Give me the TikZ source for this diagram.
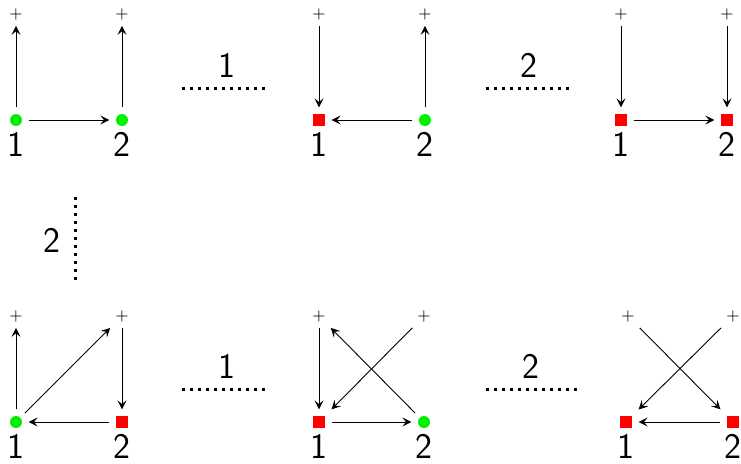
\documentclass[tikz,border=0pt]{standalone}
\usetikzlibrary{arrows.meta}
\definecolor{vgreen}{RGB}{0,240,0}
\definecolor{vred}{RGB}{255,0,0}
\begin{document}
\begin{tikzpicture}[x=0.5pt,y=-0.5pt,
  posnode/.style={circle, fill=vgreen, minimum size=6pt, inner sep=0pt, outer sep=3.3pt},
  negnode/.style={rectangle, fill=vred, minimum size=6pt, inner sep=0pt, outer sep=3.3pt},
  plusnode/.style={inner sep=0.6pt, outer sep=2.5pt, font=\fontsize{8.5}{10}\selectfont},
  numnode/.style={font=\sffamily\fontsize{18}{20}\selectfont, inner sep=0pt},
  sepline/.style={line width=1.5pt, dash pattern=on 1.5pt off 2.5pt},
  arr/.style={-{Stealth[length=4.5pt,width=4.5pt,inset=1.8pt]}, line width=0.45pt}
]
\useasboundingbox (0,0) rectangle (741,463);

% ---- panel A (top left)
\node[posnode] (a1) at (16,120) {};
\node[posnode] (a2) at (122,120) {};
\node[plusnode] (ap1) at (16,14) {$+$};
\node[plusnode] (ap2) at (122,14) {$+$};
\node[numnode] (al1) at (16,144) {1};
\node[numnode] (al2) at (122,144) {2};
\draw[arr] (a1) -- (ap1);
\draw[arr] (a2) -- (ap2);
\draw[arr] (a1) -- (a2);

% ---- panel B (top middle)
\node[negnode] (b1) at (319,120) {};
\node[posnode] (b2) at (425,120) {};
\node[plusnode] (bp1) at (319,14) {$+$};
\node[plusnode] (bp2) at (425,14) {$+$};
\node[numnode] (bl1) at (319,144) {1};
\node[numnode] (bl2) at (425,144) {2};
\draw[arr] (bp1) -- (b1);
\draw[arr] (b2) -- (bp2);
\draw[arr] (b2) -- (b1);

% ---- panel C (top right)
\node[negnode] (c1) at (621,120) {};
\node[negnode] (c2) at (727,120) {};
\node[plusnode] (cp1) at (621,14) {$+$};
\node[plusnode] (cp2) at (727,14) {$+$};
\node[numnode] (cl1) at (621,144) {1};
\node[numnode] (cl2) at (727,144) {2};
\draw[arr] (cp1) -- (c1);
\draw[arr] (cp2) -- (c2);
\draw[arr] (c1) -- (c2);

% ---- panel D (bottom left)
\node[posnode] (d1) at (16,422) {};
\node[negnode] (d2) at (122,422) {};
\node[plusnode] (dp1) at (16,316) {$+$};
\node[plusnode] (dp2) at (122,316) {$+$};
\node[numnode] (dl1) at (16,446) {1};
\node[numnode] (dl2) at (122,446) {2};
\draw[arr] (d1) -- (dp1);
\draw[arr] (d1) -- (dp2);
\draw[arr] (dp2) -- (d2);
\draw[arr] (d2) -- (d1);

% ---- panel E (bottom middle)
\node[negnode] (e1) at (319,422) {};
\node[posnode] (e2) at (424,422) {};
\node[plusnode] (ep1) at (319,316) {$+$};
\node[plusnode] (ep2) at (424,316) {$+$};
\node[numnode] (el1) at (319,446) {1};
\node[numnode] (el2) at (424,446) {2};
\draw[arr] (ep1) -- (e1);
\draw[arr] (e2) -- (ep1);
\draw[arr] (ep2) -- (e1);
\draw[arr] (e1) -- (e2);

% ---- panel F (bottom right)
\node[negnode] (f1) at (626,422) {};
\node[negnode] (f2) at (733,422) {};
\node[plusnode] (fp1) at (628,316) {$+$};
\node[plusnode] (fp2) at (733,316) {$+$};
\node[numnode] (fl1) at (626,446) {1};
\node[numnode] (fl2) at (733,446) {2};
\draw[arr] (fp1) -- (f2);
\draw[arr] (fp2) -- (f1);
\draw[arr] (f2) -- (f1);

% ---- separators
\coordinate (s1a) at (182,88); \coordinate (s1b) at (270,88);
\node[numnode] (s1l) at (227,65) {1};
\draw[sepline] (s1a) -- (s1b);
\coordinate (s2a) at (486,88); \coordinate (s2b) at (574,88);
\node[numnode] (s2l) at (529,65) {2};
\draw[sepline] (s2a) -- (s2b);
\coordinate (s3a) at (75,197); \coordinate (s3b) at (75,284);
\node[numnode] (s3l) at (52,240) {2};
\draw[sepline] (s3a) -- (s3b);
\coordinate (s4a) at (182,389); \coordinate (s4b) at (270,389);
\node[numnode] (s4l) at (227,366) {1};
\draw[sepline] (s4a) -- (s4b);
\coordinate (s5a) at (486,389); \coordinate (s5b) at (577,389);
\node[numnode] (s5l) at (531,366) {2};
\draw[sepline] (s5a) -- (s5b);
\end{tikzpicture}
\end{document}
